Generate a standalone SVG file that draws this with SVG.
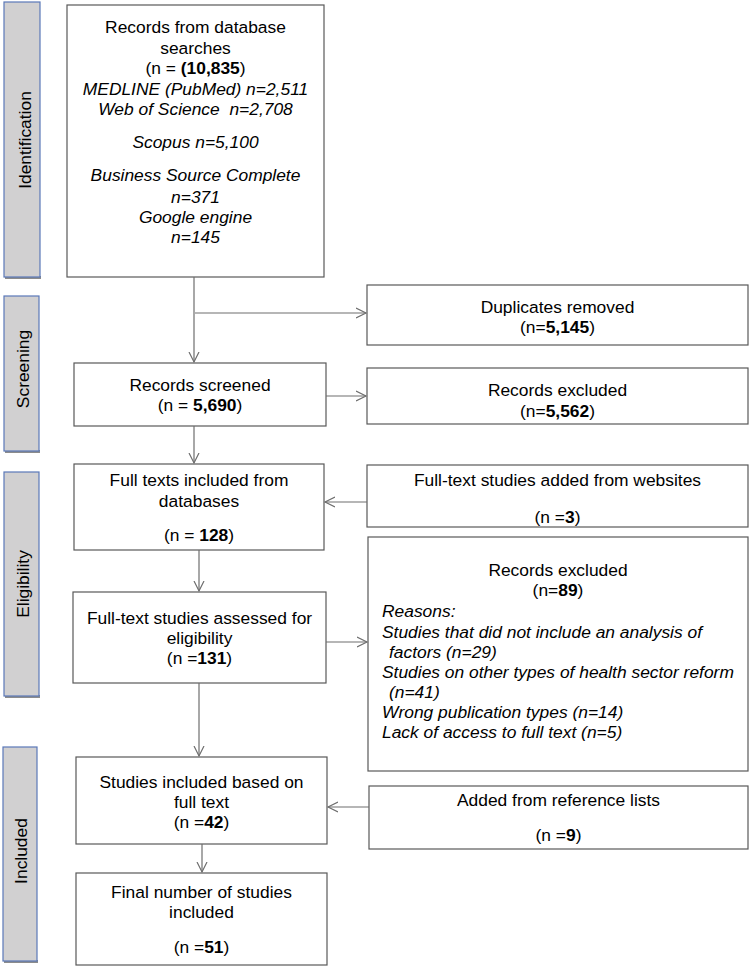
<svg xmlns="http://www.w3.org/2000/svg" width="750" height="967" viewBox="0 0 750 967">
<style>
text{font-family:"Liberation Sans",Arial,sans-serif;font-size:17.4px;fill:#000}
.c{text-anchor:middle}
.i{font-style:italic}
.b{font-weight:bold}
.box{fill:#fff;stroke:#595959;stroke-width:1.2}
.side{fill:#d1d0d1;stroke:#5a78b8;stroke-width:1.2}
.shadow{fill:#8c8c8c}
.con line{stroke:#6e6e6e;stroke-width:1.2;fill:none}
</style>
<defs>
<marker id="arr" markerWidth="12" markerHeight="12" refX="10" refY="5" orient="auto" markerUnits="userSpaceOnUse" viewBox="0 0 12 10">
<path d="M0,0 L10,5 L0,10" fill="none" stroke="#6e6e6e" stroke-width="1.2"/>
</marker>
</defs>
<rect width="750" height="967" fill="#fff"/>

<g id="side-identification">
<rect class="shadow" x="5" y="276" width="36" height="3"/>
<rect class="side" x="4" y="2" width="36" height="275"/>
<text class="c" transform="translate(31,140) rotate(-90)">Identification</text>
</g>
<g id="side-screening">
<rect class="shadow" x="5" y="450" width="35" height="3"/>
<rect class="side" x="4" y="296" width="35" height="155"/>
<text class="c" transform="translate(29,369) rotate(-90)">Screening</text>
</g>
<g id="side-eligibility">
<rect class="shadow" x="5" y="695" width="35" height="3"/>
<rect class="side" x="4" y="472" width="35" height="224"/>
<text class="c" transform="translate(29,584) rotate(-90)">Eligibility</text>
</g>
<g id="side-included">
<rect class="shadow" x="4" y="960" width="34" height="3"/>
<rect class="side" x="3" y="747" width="34" height="214"/>
<text class="c" transform="translate(27,851) rotate(-90)">Included</text>
</g>

<g id="records-db">
<rect class="box" x="67" y="5" width="257" height="272"/>
<text class="c" x="195.5" y="33">Records from database</text>
<text class="c" x="195.5" y="54">searches</text>
<text class="c" x="195.5" y="74">(n = <tspan class="b">(10,835</tspan>)</text>
<text class="c i" x="195.5" y="95">MEDLINE (PubMed) n=2,511</text>
<text class="c i" x="195.5" y="115" xml:space="preserve">Web of Science  n=2,708</text>
<text class="c i" x="195.5" y="148">Scopus n=5,100</text>
<text class="c i" x="195.5" y="181">Business Source Complete</text>
<text class="c i" x="195.5" y="203">n=371</text>
<text class="c i" x="195.5" y="223">Google engine</text>
<text class="c i" x="195.5" y="243">n=145</text>
</g>

<g id="duplicates">
<rect class="box" x="367" y="285" width="381" height="60"/>
<text class="c" x="557.5" y="313">Duplicates removed</text>
<text class="c" x="557.5" y="333">(n=<tspan class="b">5,145</tspan>)</text>
</g>

<g id="screened">
<rect class="box" x="74" y="363" width="252" height="63"/>
<text class="c" x="200" y="391">Records screened</text>
<text class="c" x="200" y="411">(n = <tspan class="b">5,690</tspan>)</text>
</g>

<g id="excluded1">
<rect class="box" x="367" y="368" width="381" height="56"/>
<text class="c" x="557.5" y="396">Records excluded</text>
<text class="c" x="557.5" y="417">(n=<tspan class="b">5,562</tspan>)</text>
</g>

<g id="fulltexts">
<rect class="box" x="74" y="464" width="250" height="86"/>
<text class="c" x="199" y="486">Full texts included from</text>
<text class="c" x="199" y="507">databases</text>
<text class="c" x="199" y="541">(n = <tspan class="b">128</tspan>)</text>
</g>

<g id="websites">
<rect class="box" x="367" y="465" width="381" height="62"/>
<text class="c" x="557.5" y="486">Full-text studies added from websites</text>
<text class="c" x="557.5" y="523">(n =<tspan class="b">3</tspan>)</text>
</g>

<g id="assessed">
<rect class="box" x="73" y="592" width="253" height="91"/>
<text class="c" x="199.5" y="624">Full-text studies assessed for</text>
<text class="c" x="199.5" y="644">eligibility</text>
<text class="c" x="199.5" y="664">(n =<tspan class="b">131</tspan>)</text>
</g>

<g id="excluded2">
<rect class="box" x="368" y="537" width="380" height="234"/>
<text class="c" x="558" y="576">Records excluded</text>
<text class="c" x="558" y="596">(n=<tspan class="b">89</tspan>)</text>
<text class="i" x="382" y="617">Reasons:</text>
<text class="i" x="382" y="638">Studies that did not include an analysis of</text>
<text class="i" x="389" y="658">factors (n=29)</text>
<text class="i" x="382" y="678">Studies on other types of health sector reform</text>
<text class="i" x="389" y="698">(n=41)</text>
<text class="i" x="382" y="718">Wrong publication types (n=14)</text>
<text class="i" x="382" y="738">Lack of access to full text (n=5)</text>
</g>

<g id="included">
<rect class="box" x="76" y="757" width="251" height="87"/>
<text class="c" x="201.5" y="788">Studies included based on</text>
<text class="c" x="201.5" y="808">full text</text>
<text class="c" x="201.5" y="828">(n =<tspan class="b">42</tspan>)</text>
</g>

<g id="reflists">
<rect class="box" x="369" y="786" width="379" height="63"/>
<text class="c" x="558.5" y="806">Added from reference lists</text>
<text class="c" x="558.5" y="841">(n =<tspan class="b">9</tspan>)</text>
</g>

<g id="final">
<rect class="box" x="76" y="873" width="251" height="92"/>
<text class="c" x="201.5" y="898">Final number of studies</text>
<text class="c" x="201.5" y="918">included</text>
<text class="c" x="201.5" y="953">(n =<tspan class="b">51</tspan>)</text>
</g>

<g id="connectors" class="con">
<line x1="194" y1="277" x2="194" y2="362" marker-end="url(#arr)"/>
<line x1="195" y1="313" x2="366" y2="313" marker-end="url(#arr)"/>
<line x1="326" y1="396" x2="366" y2="396" marker-end="url(#arr)"/>
<line x1="194" y1="426" x2="194" y2="463" marker-end="url(#arr)"/>
<line x1="367" y1="502" x2="325" y2="502" marker-end="url(#arr)"/>
<line x1="199" y1="550" x2="199" y2="591" marker-end="url(#arr)"/>
<line x1="326" y1="642" x2="367" y2="642" marker-end="url(#arr)"/>
<line x1="199" y1="683" x2="199" y2="756" marker-end="url(#arr)"/>
<line x1="369" y1="807" x2="328" y2="807" marker-end="url(#arr)"/>
<line x1="202" y1="844" x2="202" y2="872" marker-end="url(#arr)"/>
</g>
</svg>
